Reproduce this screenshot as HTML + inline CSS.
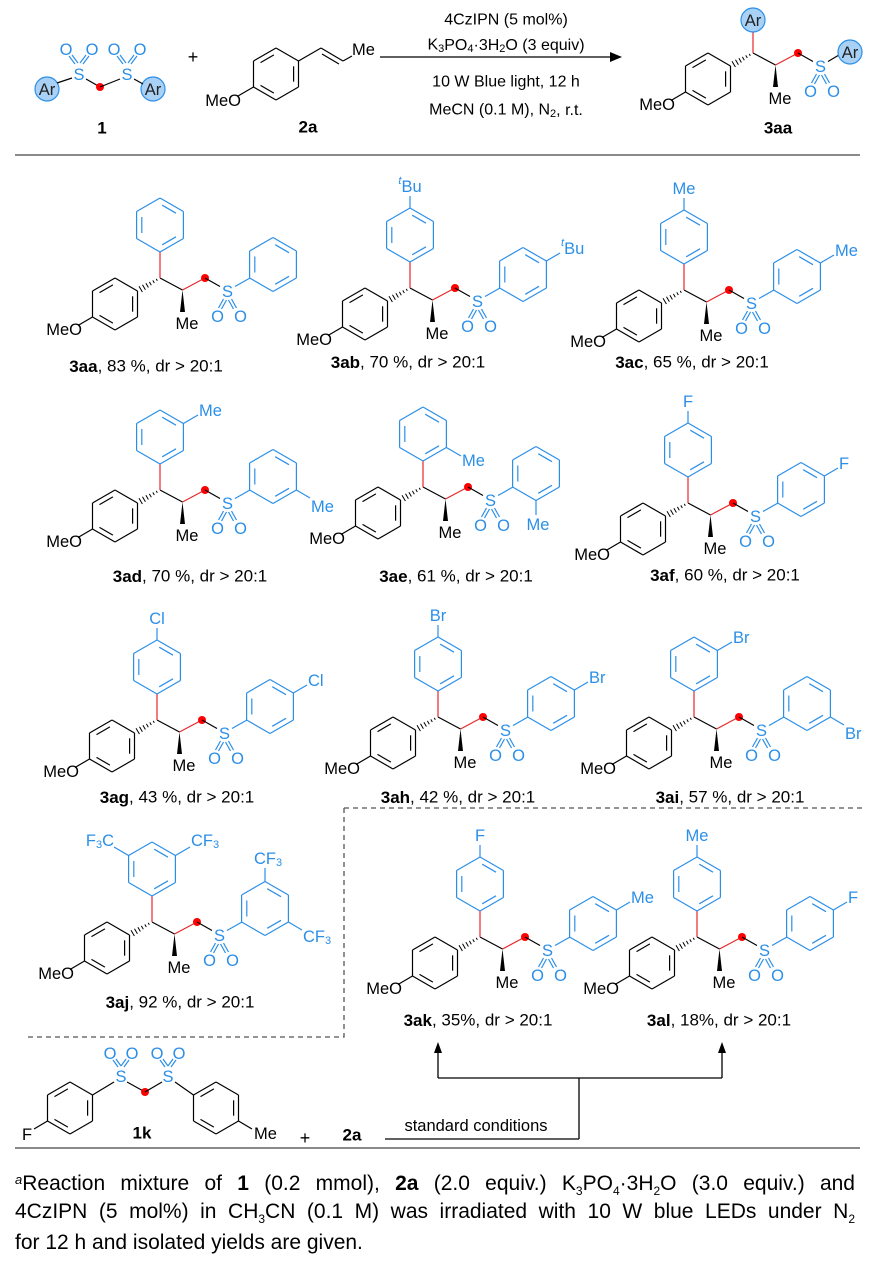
<!DOCTYPE html>
<html><head><meta charset="utf-8">
<style>
html,body{margin:0;padding:0;background:#fff;}
#wrap{position:relative;width:869px;height:1267px;overflow:hidden;font-family:"Liberation Sans",Arial,sans-serif;}
svg text{font-family:"Liberation Sans",Arial,sans-serif;}
.fn{position:absolute;left:15px;width:840px;font-size:21px;line-height:31px;color:#000;white-space:nowrap;}
.j{text-align:justify;text-align-last:justify;}
</style></head>
<body><div id="wrap">
<svg id="sv" width="869" height="1267" viewBox="0 0 869 1267" xmlns="http://www.w3.org/2000/svg"></svg>
<div class="fn j" style="top:1164px"><i style="font-size:13px;vertical-align:6px">a</i>Reaction mixture of <b>1</b> (0.2 mmol), <b>2a</b> (2.0 equiv.) K<sub style="font-size:12px">3</sub>PO<sub style="font-size:12px">4</sub>·3H<sub style="font-size:12px">2</sub>O (3.0 equiv.) and</div>
<div class="fn j" style="top:1196px">4CzIPN (5 mol%) in CH<sub style="font-size:12px">3</sub>CN (0.1 M) was irradiated with 10 W blue LEDs under N<sub style="font-size:12px">2</sub></div>
<div class="fn" style="top:1227px">for 12 h and isolated yields are given.</div>
</div>
<script>
const B='#2b8fe8',R='#e8262b';
let s='';
function L(x1,y1,x2,y2,c,w){s+=`<line x1="${x1.toFixed(1)}" y1="${y1.toFixed(1)}" x2="${x2.toFixed(1)}" y2="${y2.toFixed(1)}" stroke="${c||'#000'}" stroke-width="${w||1.2}"/>`;}
function T(x,y,t,c,a,fs,extra){s+=`<text x="${x.toFixed(1)}" y="${y.toFixed(1)}" fill="${c||'#000'}" text-anchor="${a||'middle'}" dominant-baseline="central" font-size="${fs||16.5}" ${extra||''}>${t}</text>`;}
function hex(cx,cy,r,c,dbl){const v=[];for(let i=0;i<6;i++){const a=(-90+60*i)*Math.PI/180;v.push([cx+r*Math.cos(a),cy+r*Math.sin(a)]);}
 for(let i=0;i<6;i++){const p=v[i],q=v[(i+1)%6];L(p[0],p[1],q[0],q[1],c);}
 dbl.forEach(i=>{const p=v[i],q=v[(i+1)%6],f=0.78;const p2=[cx+(p[0]-cx)*f,cy+(p[1]-cy)*f],q2=[cx+(q[0]-cx)*f,cy+(q[1]-cy)*f],t=0.12;
 L(p2[0]+(q2[0]-p2[0])*t,p2[1]+(q2[1]-p2[1])*t,q2[0]+(p2[0]-q2[0])*t,q2[1]+(p2[1]-q2[1])*t,c);});return v;}
function dot(x,y){s+=`<circle cx="${x}" cy="${y}" r="4" fill="#f00"/>`;}
function arC(x,y){s+=`<circle cx="${x}" cy="${y}" r="12" fill="#a9d1f5" stroke="${B}" stroke-width="1.2"/>`;T(x,y+1,'Ar','#222');}
function SO2(X,Y){
 T(X,Y+1,'S',B);
 L(X-4,Y+8,X-9,Y+17,B);L(X-1,Y+9,X-6,Y+18,B);
 L(X+4,Y+8,X+9,Y+17,B);L(X+1,Y+9,X+6,Y+18,B);
 T(X-10,Y+26,'O',B);T(X+13,Y+26,'O',B);}
const tBu='<tspan font-style="italic" font-size="11" dy="-6">t</tspan><tspan dy="6">Bu</tspan>';
const CF3='CF<tspan font-size="11" dy="4">3</tspan>';
const F3C='F<tspan font-size="11" dy="4">3</tspan><tspan dy="-4">C</tspan>';
function mol(X,Y,o){
 hex(X-45,Y+26,26,'#000',[1,3,5]);
 for(let k=1;k<=6;k++){const t=k/7,px=X-22.5*t,py=Y+13*t,h=0.6+3.2*t;L(px-0.5*h,py-0.866*h,px+0.5*h,py+0.866*h,'#000',1);}
 L(X-67.5,Y+39,X-82,Y+47.5);T(X-78,Y+52,'MeO','#000','end');
 L(X+0,Y,X+22.5,Y+12);
 s+=`<polygon points="${X+22.5},${Y+12} ${X+20},${Y+34} ${X+25},${Y+34}" fill="#000"/>`;
 T(X+27,Y+46,'Me');
 L(X+22.5,Y+12,X+45,Y,R);dot(X+45,Y);
 L(X+45,Y,X+60,Y+8.5);
 SO2(X+67.5,Y+13);
 if(o.header){
  L(X,Y,X,Y-21,R);arC(X,Y-33);
  L(X+75,Y+8.5,X+86,Y+2);arC(X+97,Y-1);return;}
 L(X+75,Y+8.5,X+90,Y,B);
 L(X,Y,X,Y-26,R);
 hex(X,Y-53,27,B,[0,2,4]);
 hex(X+113,Y-13.5,27,B,[0,2,4]);
 const t=o.t,r=o.r;
 if(t.p){L(X,Y-80,X,Y-92,B);T(X,Y-101,t.p,B);}
 if(t.m){L(X+23.4,Y-66.5,X+38,Y-75,B);T(X+39,Y-79,t.m,B,'start');}
 if(t.o){L(X+23.4,Y-39.5,X+38,Y-31,B);T(X+39,Y-26,t.o,B,'start');}
 if(t.mm){L(X-23.4,Y-66.5,X-38,Y-75,B);T(X-38,Y-81,F3C,B,'end');L(X+23.4,Y-66.5,X+38,Y-75,B);T(X+39,Y-81,CF3,B,'start');}
 if(r.p){L(X+136.4,Y-27,X+150,Y-35,B);T(X+151,Y-39,r.p,B,'start');}
 if(r.m){L(X+136.4,Y,X+150,Y+8,B);T(X+151,Y+17,r.m,B,'start');}
 if(r.o){L(X+113,Y+13.5,X+113,Y+28,B);T(X+115,Y+38,r.o,B);}
 if(r.mm){L(X+113,Y-40.5,X+113,Y-54,B);T(X+116,Y-63,CF3,B);L(X+136.4,Y,X+150,Y+8,B);T(X+151,Y+15,CF3,B,'start');}
}
L(15,155,860,155,'#444',1.3);
arC(47,89);arC(153,89);
L(57,83,72,78);T(79,75,'S',B);L(86,79,100,87);dot(100,87);L(100,87,120,79);T(127,75,'S',B);L(134,79,143,84);
[[79,65],[127,65]].forEach(([x,y])=>{L(x-4,y-1,x-10,y-9,B);L(x-1,y-2,x-7,y-10,B);L(x+4,y-1,x+10,y-9,B);L(x+1,y-2,x+7,y-10,B);T(x-13,y-15,'O',B);T(x+13,y-15,'O',B);});
T(102,128,'1','#000','middle',17,'font-weight="bold"');
T(193,57,'+','#000','middle',18);
hex(276,74,26,'#000',[1,3,5]);
L(298.5,61,321,48);L(321,48,343,61);L(322,54,339,64);L(343,61,352,56);T(352,50,'Me','#000','start');
L(253.5,87,238,96);T(241,101,'MeO','#000','end');
T(308,127,'2a','#000','middle',17,'font-weight="bold"');
L(380,57,614,57,'#000',1.3);s+='<polygon points="622,57 610,52 610,62" fill="#000"/>';
T(506,20,'4CzIPN (5 mol%)','#000','middle',16);
T(506,45,'K<tspan font-size="11" dy="4">3</tspan><tspan dy="-4">PO</tspan><tspan font-size="11" dy="4">4</tspan><tspan dy="-4">·3H</tspan><tspan font-size="11" dy="4">2</tspan><tspan dy="-4">O (3 equiv)</tspan>','#000','middle',16);
T(506,82,'10 W Blue light, 12 h','#000','middle',16);
T(506,110,'MeCN (0.1 M), N<tspan font-size="11" dy="4">2</tspan><tspan dy="-4">, r.t.</tspan>','#000','middle',16);
mol(753,53,{header:1});
T(778,128,'3aa','#000','middle',17,'font-weight="bold"');
const M=[
[160,278,{},{}],[410,288,{p:tBu},{p:tBu}],[684,290,{p:'Me'},{p:'Me'}],
[160,490,{m:'Me'},{m:'Me'}],[423,487,{o:'Me'},{o:'Me'}],[688,503,{p:'F'},{p:'F'}],
[157,720,{p:'Cl'},{p:'Cl'}],[438,717,{p:'Br'},{p:'Br'}],[694,717,{m:'Br'},{m:'Br'}],
[152,922,{mm:1},{mm:1}],[480,937,{p:'F'},{p:'Me'}],[697,937,{p:'Me'},{p:'F'}]];
M.forEach(m=>mol(m[0],m[1],{t:m[2],r:m[3]}));
const LB=[['3aa',', 83 %, dr &gt; 20:1',146,366],['3ab',', 70 %, dr &gt; 20:1',408,362],['3ac',', 65 %, dr &gt; 20:1',692,362],
['3ad',', 70 %, dr &gt; 20:1',190,576],['3ae',', 61 %, dr &gt; 20:1',456,576],['3af',', 60 %, dr &gt; 20:1',725,575],
['3ag',', 43 %, dr &gt; 20:1',177,797],['3ah',', 42 %, dr &gt; 20:1',458,797],['3ai',', 57 %, dr &gt; 20:1',730,797],
['3aj',', 92 %, dr &gt; 20:1',180,1002],['3ak',', 35%, dr &gt; 20:1',478,1020],['3al',', 18%, dr &gt; 20:1',719,1020]];
LB.forEach(l=>T(l[2],l[3],`<tspan font-weight="bold">${l[0]}</tspan>${l[1]}`,'#000','middle',17));
s+='<path d="M344 808 H866 M344 808 V1037 H25" fill="none" stroke="#555" stroke-width="1.3" stroke-dasharray="5,4"/>';
L(438,1078,722,1078,'#000',1.3);L(438,1078,438,1050,'#000',1.3);L(722,1078,722,1050,'#000',1.3);
s+='<polygon points="438,1042 434,1053 442,1053" fill="#000"/><polygon points="722,1042 718,1053 726,1053" fill="#000"/>';
L(579,1078,579,1139,'#000',1.3);L(579,1139,385,1139,'#000',1.3);
T(476,1126,'standard conditions','#000','middle',16.5);
hex(70,1108,26,'#000',[1,3,5]);L(47.5,1121,34,1129);T(27,1135,'F');
L(92.5,1095,114,1082);T(121,1077,'S',B);L(127,1082,145,1092);dot(145,1092);L(145,1092,162,1082);T(168,1077,'S',B);L(175,1082,193.5,1095);
hex(216,1108,26,'#000',[1,3,5]);L(238.5,1121,252,1129);T(254,1134,'Me','#000','start');
[[121,1068],[168,1068]].forEach(([x,y])=>{L(x-3,y-1,x-8,y-8,B);L(x,y-2,x-5,y-9,B);L(x+3,y-1,x+8,y-8,B);L(x,y-2,x+5,y-9,B);T(x-11,y-14,'O',B);T(x+11,y-14,'O',B);});
T(142,1133,'1k','#000','middle',17,'font-weight="bold"');
T(305,1138,'+','#000','middle',18);
T(352,1135,'2a','#000','middle',17,'font-weight="bold"');
L(15,1148,860,1148,'#444',1.3);
document.getElementById('sv').innerHTML=s;
</script>
</body></html>
